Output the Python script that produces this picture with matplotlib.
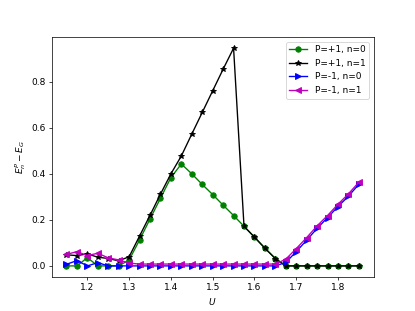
import numpy as np
import matplotlib
matplotlib.use('Agg')
import matplotlib.pyplot as plt

# U values, 1.15 .. 1.85 step 0.025
U = [1.15, 1.175, 1.2, 1.225, 1.25, 1.275, 1.3, 1.325, 1.35, 1.375, 1.4, 1.425,
     1.45, 1.475, 1.5, 1.525, 1.55, 1.575, 1.6, 1.625, 1.65, 1.675, 1.7, 1.725,
     1.75, 1.775, 1.8, 1.825, 1.85]

p1_n0 = [0.0, 0.0, 0.036, 0.0, 0.0, 0.0, 0.026, 0.113, 0.204, 0.294, 0.384, 0.443,
         0.400, 0.354, 0.310, 0.264, 0.219, 0.172, 0.125, 0.077, 0.032, 0.0, 0.0, 0.0,
         0.0, 0.0, 0.0, 0.0, 0.0]
p1_n1 = [0.048, 0.045, 0.052, 0.038, 0.032, 0.022, 0.040, 0.130, 0.220, 0.312, 0.400, 0.478,
         0.573, 0.667, 0.761, 0.855, 0.946, 0.172, 0.125, 0.077, 0.032, 0.0, 0.0, 0.0,
         0.0, 0.0, 0.0, 0.0, 0.0]
m1_n0 = [0.007, 0.023, 0.0, 0.014, 0.0, 0.0, 0.0, 0.0, 0.0, 0.0, 0.0, 0.0,
         0.0, 0.0, 0.0, 0.0, 0.0, 0.0, 0.0, 0.0, 0.0, 0.015, 0.062, 0.112,
         0.163, 0.210, 0.258, 0.303, 0.355]
m1_n1 = [0.050, 0.062, 0.045, 0.055, 0.035, 0.026, 0.012, 0.008, 0.008, 0.008, 0.008, 0.008,
         0.008, 0.008, 0.008, 0.008, 0.008, 0.008, 0.008, 0.008, 0.008, 0.029, 0.075, 0.123,
         0.174, 0.219, 0.268, 0.313, 0.364]

fig, ax = plt.subplots(figsize=(415 / 65, 311 / 65), dpi=65)

ax.plot(U, p1_n0, 'o-', color='green', label='P=+1, n=0')
ax.plot(U, p1_n1, '*-', color='black', label='P=+1, n=1')
ax.plot(U, m1_n0, '>-', color='blue', label='P=-1, n=0')
ax.plot(U, m1_n1, '<-', color='m', label='P=-1, n=1')

ax.set_xlabel('$U$')
ax.set_ylabel('$E_n^P - E_G$')
ax.legend(loc='upper right')

plt.savefig('out.png', dpi=65)
plt.close()
